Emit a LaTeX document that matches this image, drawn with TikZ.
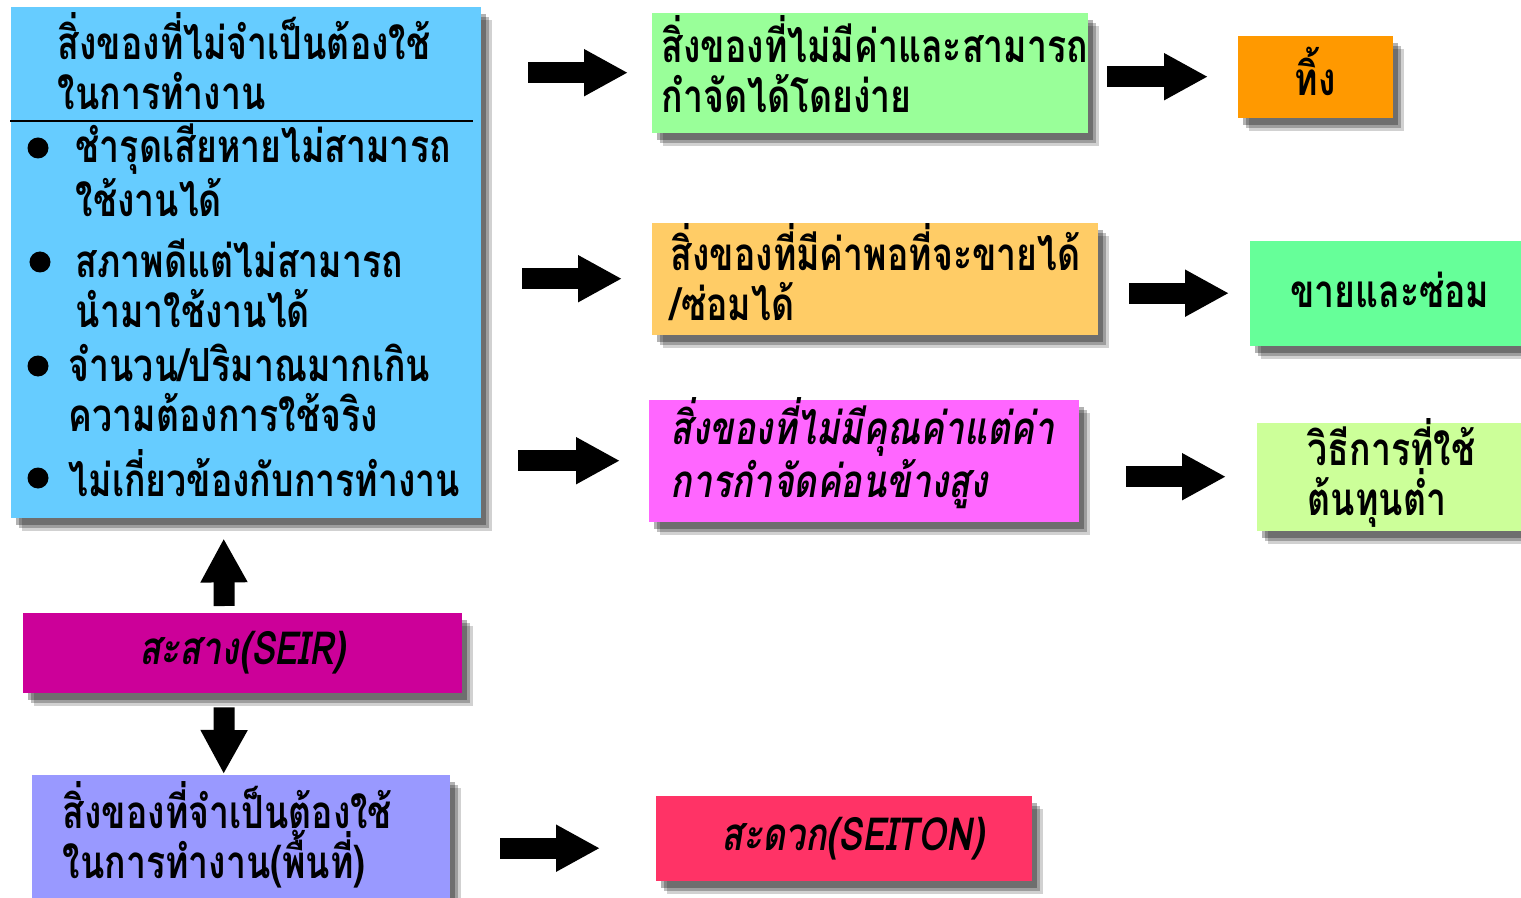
\documentclass[tikz,border=0pt]{standalone}
\usepackage{fontspec}
\setmainfont{Loma}[Script=Thai, FakeStretch=0.78]
\usetikzlibrary{arrows.meta,shadows,positioning}

\definecolor{skyblue}{HTML}{66CCFF}
\definecolor{paleleaf}{HTML}{99FF99}
\definecolor{dropor}{HTML}{FF9900}
\definecolor{sandy}{HTML}{FFCC66}
\definecolor{mint}{HTML}{66FF99}
\definecolor{pinkish}{HTML}{FF66FF}
\definecolor{lime}{HTML}{CCFF99}
\definecolor{plum}{HTML}{CC0099}
\definecolor{periwinkle}{HTML}{9999FF}
\definecolor{rose}{HTML}{FF3366}

\tikzset{
  card/.style={rectangle, anchor=north west, inner sep=0pt, draw=none,
    drop shadow={shadow xshift=0.11cm, shadow yshift=-0.13cm, fill=black, opacity=0.18},
    drop shadow={shadow xshift=0.08cm, shadow yshift=-0.10cm, fill=black, opacity=0.25},
    drop shadow={shadow xshift=0.05cm, shadow yshift=-0.07cm, fill=black, opacity=0.30},
    font=\bfseries\fontsize{13}{14.2}\selectfont},
  label/.style={inner sep=0pt, align=left, font=\bfseries\fontsize{13}{14.2}\selectfont},
  dot/.style={circle, fill=black, inner sep=0pt, minimum size=0.21cm},
  bigarrow/.style={line width=0.21cm, -{Triangle[length=0.44cm, width=0.44cm]}}
}

\begin{document}
\begin{tikzpicture}
  \useasboundingbox (0,0) rectangle (15.21,-8.98);

  % left column
  \node[card, fill=skyblue, minimum width=4.70cm, minimum height=5.11cm] (unneeded) at (0.10,-0.06) {};
     \node[label, anchor=west] (unneeded-t) at (0.57,-0.61) {สิ่งของที่ไม่จำเป็นต้องใช้\\ในการทำงาน};
     \draw[line width=0.6pt] (unneeded.west |- 0,-1.21) to (4.73,-1.21);
     \node[dot] (b1) at (0.38,-1.48) {};
        \node[label, anchor=west] (b1-t) at (0.75,-1.70) {ชำรุดเสียหายไม่สามารถ\\ใช้งานได้};
     \node[dot] (b2) at (0.40,-2.62) {};
        \node[label, anchor=west] (b2-t) at (0.75,-2.83) {สภาพดีแต่ไม่สามารถ\\นำมาใช้งานได้};
     \node[dot] (b3) at (0.38,-3.66) {};
        \node[label, anchor=west] (b3-t) at (0.68,-3.875) {จำนวน/ปริมาณมากเกิน\\ความต้องการใช้จริง};
     \node[dot] (b4) at (0.38,-4.78) {};
        \node[label, anchor=west] (b4-t) at (0.68,-4.73) {ไม่เกี่ยวข้องกับการทำงาน};

  \node[card, fill=plum, minimum width=4.39cm, minimum height=0.80cm, font=\bfseries\itshape\fontsize{13}{14.2}\selectfont] (seir) at (0.22,-6.12) {สะสาง(SEIR)\hspace{0.2cm}};
  \node[card, fill=periwinkle, minimum width=4.18cm, minimum height=1.30cm] (needed) at (0.31,-7.74) {};
     \node[label, anchor=west] (needed-t) at (0.62,-8.35) {สิ่งของที่จำเป็นต้องใช้\\ในการทำงาน(พื้นที่)};

  % middle column
  \node[card, fill=paleleaf, minimum width=4.36cm, minimum height=1.20cm] (cheapjunk) at (6.51,-0.12) {};
     \node[label, anchor=west] (cheapjunk-t) at (6.61,-0.64) {สิ่งของที่ไม่มีค่าและสามารถ\\กำจัดได้โดยง่าย};
  \node[card, fill=sandy, minimum width=4.46cm, minimum height=1.12cm] (worth) at (6.51,-2.22) {};
     \node[label, anchor=west] (worth-t) at (6.70,-2.72) {สิ่งของที่มีค่าพอที่จะขายได้\\/ซ่อมได้};
  \node[card, fill=pinkish, minimum width=4.30cm, minimum height=1.22cm] (costly) at (6.48,-3.99) {};
     \node[label, anchor=west, font=\bfseries\itshape\fontsize{13}{14.2}\selectfont] (costly-t) at (6.70,-4.53) {สิ่งของที่ไม่มีคุณค่าแต่ค่า\\การกำจัดค่อนข้างสูง};
  \node[card, fill=rose, minimum width=3.76cm, minimum height=0.85cm, font=\bfseries\itshape\fontsize{13}{14.2}\selectfont] (seiton) at (6.55,-7.95) {\hspace{0.18cm}สะดวก(SEITON)};

  % right column
  \node[card, fill=dropor, minimum width=1.55cm, minimum height=0.82cm] (drop) at (12.37,-0.35) {\raisebox{0.10cm}{ทิ้ง}};
  \node[card, fill=mint, minimum width=2.80cm, minimum height=1.05cm] (sell) at (12.49,-2.40) {\raisebox{0.06cm}{ขายและซ่อม}};
  \node[card, fill=lime, minimum width=2.75cm, minimum height=1.08cm] (lowcost) at (12.56,-4.22) {};
     \node[label, anchor=west] (lowcost-t) at (13.07,-4.73) {วิธีการที่ใช้\\ต้นทุนต่ำ};

  % arrows
  \draw[bigarrow, shorten <=0.47cm, shorten >=0.23cm] (unneeded.east |- cheapjunk.west) -- (cheapjunk.west);
  \draw[bigarrow, shorten <=0.41cm, shorten >=0.29cm] (unneeded.east |- worth.west) -- (worth.west);
  \draw[bigarrow, shorten <=0.37cm, shorten >=0.28cm] (unneeded.east |- costly.west) -- (costly.west);
  \draw[bigarrow, shorten <=0.19cm, shorten >=0.29cm] (cheapjunk.east |- drop.west) -- (drop.west);
  \draw[bigarrow, shorten <=0.31cm, shorten >=0.20cm] (worth.east |- sell.west) -- (sell.west);
  \draw[bigarrow, shorten <=0.47cm, shorten >=0.30cm] (costly.east |- lowcost.west) -- (lowcost.west);
  \draw[bigarrow] ([xshift=-0.18cm, yshift=0.06cm]seir.north) -- ([xshift=-0.22cm, yshift=-0.20cm]unneeded.south);
  \draw[bigarrow] ([xshift=-0.18cm, yshift=-0.14cm]seir.south) -- ([xshift=-0.17cm]needed.north);
  \coordinate (seiton-in) at ([yshift=-0.10cm]seiton.west);
  \draw[bigarrow, shorten <=0.50cm, shorten >=0.55cm] (needed.east |- seiton-in) -- (seiton-in);

\end{tikzpicture}
\end{document}
